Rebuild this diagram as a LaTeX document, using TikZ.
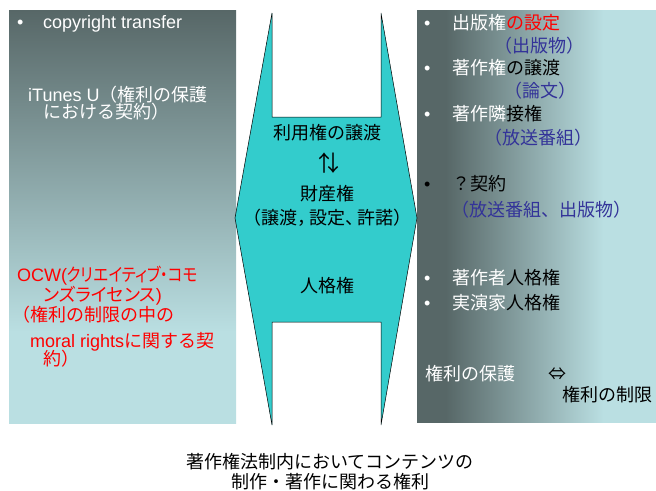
\documentclass[tikz,border=0pt]{standalone}
\usepackage{fontspec}
\usepackage{graphicx}
\setmainfont{Noto Sans CJK JP}
\newfontfamily\lat{Liberation Sans}
\newfontfamily\jpp[RawFeature=+palt]{Noto Sans CJK JP}
\definecolor{dk}{RGB}{87,103,103}
\definecolor{lt}{RGB}{186,223,226}
\definecolor{tq}{RGB}{51,204,204}
\definecolor{bl}{RGB}{51,51,153}
\pgfdeclarehorizontalshading{rshade}{100bp}{color(0bp)=(dk); color(31bp)=(dk); color(64bp)=(lt); color(100bp)=(lt)}
\pgfdeclareverticalshading{lshade}{100bp}{color(0bp)=(lt); color(36bp)=(lt); color(75bp)=(dk); color(100bp)=(dk)}
\begin{document}
\begin{tikzpicture}[x=1pt,y=-1pt,
  t/.style={anchor=base west, inner sep=0pt, font=\fontsize{18}{20}\selectfont},
  tc/.style={t, anchor=base}]
\useasboundingbox (0,0) rectangle (656,490);
% boxes
\shade[shading=lshade] (9,10) rectangle (236,423);
\shade[shading=rshade] (417,10) rectangle (656,422);
% central shape
\draw[fill=tq, draw=black, line width=0.5pt]
  (272,13) -- (272,117) -- (381,117) -- (381,13) -- (417,218) -- (381,425)
  -- (381,322) -- (272,322) -- (272,425) -- (235,218) -- cycle;
% left texts
\node[t,white] (lb1) at (17,28) {\lat •};
\node[t,white] (l1) at (43,28) {\lat copyright transfer};
\node[t,white] (l2) at (28,101) {{\lat iTunes U}（権利の保護};
\node[t,white] (l3) at (43,118) {における契約）};
\node[t,red] (l4) at (17,281) {{\lat OCW(}\scalebox{0.86}[1]{\jpp クリエイティブ・コモ}};
\node[t,red] (l5) at (43,301) {\jpp ンズライセンス{\lat )}};
\node[t,red] (l6) at (12,321) {（権利の制限の中の};
\node[t,red] (l7) at (30,347) {{\lat moral rights}に関する契};
\node[t,red] (l8) at (43,365) {約）};
% centre texts
\node[tc] (c1) at (327,139) {利用権の譲渡};
\node[tc, font=\fontsize{22}{22}\selectfont] (c2) at (329,171) {↑\kern-0.6em↓};
\node[tc] (c3) at (327,200) {財産権};
\node[tc] (c4) at (327,224) {（譲渡，\kern-6pt設定、\kern-6pt許諾）};
\node[tc] (c5) at (327,292) {人格権};
% right texts
\node[t,white] (rb1) at (424,29) {\lat •};
\node[t] (r1) at (452,29) {\textcolor{white}{出版権}\textcolor{red}{の設定}};
\node[t,bl] (r2) at (494,52) {（出版物）};
\node[t,white] (rb2) at (424,74) {\lat •};
\node[t] (r3) at (452,74) {\textcolor{white}{著作権}の譲渡};
\node[t,bl] (r4) at (504,97) {（論文）};
\node[t,white] (rb3) at (424,120) {\lat •};
\node[t] (r5) at (452,120) {\textcolor{white}{著作隣}接権};
\node[t,bl] (r6) at (484,144) {（放送番組）};
\node[t] (rb4) at (424,190) {\lat •};
\node[t] (r7) at (452,190) {？契約};
\node[t,bl] (r8) at (451,216) {（放送番組、出版物）};
\node[t,white] (rb5) at (424,284) {\lat •};
\node[t] (r9) at (452,284) {\textcolor{white}{著作者}人格権};
\node[t,white] (rb6) at (424,309) {\lat •};
\node[t] (r10) at (452,309) {\textcolor{white}{実演家}人格権};
\node[t,white] (r11) at (425,380) {権利の保護};
\node[t] (r12) at (548,380) {⇔};
\node[t] (r13) at (562,401) {権利の制限};
% caption
\node[tc] (cap1) at (330,468) {著作権法制内においてコンテンツの};
\node[tc] (cap2) at (330,488) {制作・著作に関わる権利};
\end{tikzpicture}
\end{document}
